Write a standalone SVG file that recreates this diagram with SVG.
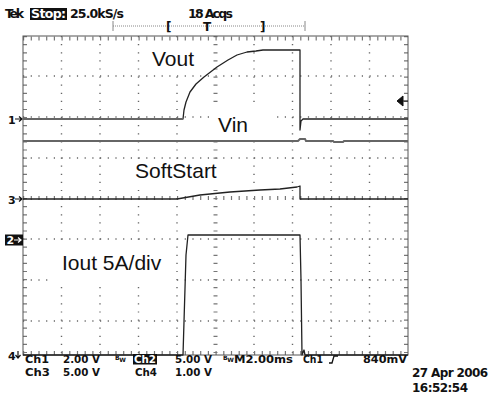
<svg xmlns="http://www.w3.org/2000/svg" width="491" height="395" viewBox="0 0 491 395">
<style>
.scope{font-family:"DejaVu Sans","Liberation Sans",sans-serif;fill:#111;font-weight:bold}
.ro{font-size:10px}
.lab{font-family:"Liberation Sans",Arial,sans-serif;font-size:21px;fill:#111}
.inv{fill:#fff}
.grid{stroke:#555;stroke-width:1;fill:none}
.dotv{stroke:#666;stroke-width:1.4;stroke-dasharray:1.2 6.9;fill:none}
.doth{stroke:#666;stroke-width:1.4;stroke-dasharray:1.2 6.5;fill:none}
.tr{stroke:#222;stroke-width:1.3;fill:none;stroke-linejoin:round}
.trg{stroke:#666;stroke-width:2;fill:none}
.arr{stroke:#111;stroke-width:1.2;fill:none}
</style>
<rect width="491" height="395" fill="#fff"/>

<g id="header">
  <text class="scope" x="5" y="18" font-size="12.5" textLength="19">Tek</text>
  <rect x="30" y="8" width="37" height="12" fill="#111"/>
  <text class="scope inv" x="31" y="18" font-size="12.5" textLength="35">Stop:</text>
  <text class="scope" x="70" y="18" font-size="12.5" textLength="54">25.0kS/s</text>
  <text class="scope" x="188" y="18" font-size="12.5" textLength="45">18 Acqs</text>
  <line x1="113" y1="26" x2="305" y2="26" stroke="#888" stroke-width="1" stroke-dasharray="1 1"/>
  <line x1="113" y1="21" x2="113" y2="31" stroke="#888" stroke-width="1"/>
  <line x1="305" y1="21" x2="305" y2="31" stroke="#888" stroke-width="1"/>
  <text class="scope" x="166" y="31" font-size="12">[</text>
  <text class="scope" x="203" y="31" font-size="12">T</text>
  <text class="scope" x="260" y="31" font-size="12">]</text>
</g>

<g id="graticule">
  <g class="dotv">
    <line x1="61.5" y1="36" x2="61.5" y2="355"/>
    <line x1="100" y1="36" x2="100" y2="355"/>
    <line x1="138.5" y1="36" x2="138.5" y2="355"/>
    <line x1="177" y1="36" x2="177" y2="355"/>
    <line x1="254" y1="36" x2="254" y2="355"/>
    <line x1="292.5" y1="36" x2="292.5" y2="355"/>
    <line x1="331" y1="36" x2="331" y2="355"/>
    <line x1="369.5" y1="36" x2="369.5" y2="355"/>
  </g>
  <g class="doth">
    <line x1="23" y1="76" x2="408" y2="76"/>
    <line x1="23" y1="117" x2="408" y2="117"/>
    <line x1="23" y1="158" x2="408" y2="158"/>
    <line x1="23" y1="239" x2="408" y2="239"/>
    <line x1="23" y1="280" x2="408" y2="280"/>
    <line x1="23" y1="321" x2="408" y2="321"/>
  </g>
  <line x1="215.5" y1="36" x2="215.5" y2="355" stroke="#777" stroke-width="4" stroke-dasharray="1.2 6.9"/>
  <line x1="23" y1="198" x2="408" y2="198" stroke="#777" stroke-width="4" stroke-dasharray="1.2 6.5"/>
  <line x1="23" y1="38.5" x2="408" y2="38.5" stroke="#777" stroke-width="4" stroke-dasharray="1.2 6.5"/>
  <line x1="23" y1="353" x2="408" y2="353" stroke="#777" stroke-width="4" stroke-dasharray="1.2 6.5"/>
  <line x1="25" y1="36" x2="25" y2="355" stroke="#777" stroke-width="4" stroke-dasharray="1.2 6.9"/>
  <line x1="406" y1="36" x2="406" y2="355" stroke="#777" stroke-width="4" stroke-dasharray="1.2 6.9"/>
  <rect class="grid" x="23" y="36" width="385" height="319" stroke-width="1.5"/>
</g>

<g id="label-boxes" fill="#fff">
  <rect x="148" y="44" width="64" height="28"/>
  <rect x="212" y="107" width="60" height="32"/>
  <rect x="130" y="160" width="92" height="24"/>
  <rect x="50" y="246" width="122" height="38"/>
</g>

<g id="connectors">
  <path id="vout" class="tr" d="M23,119 H183 L184,110 L186,102 L190,92 L196,84 L204,77 L217,67 L228,60 L237,55 L247,52 L256,51 L263,50 H300 V130 L301,121 L303,119 H408"/>
  <path class="trg" d="M23,119 H183"/>
  <path id="vin" class="trg" d="M23,141 H298 L300,139 H305 L306,141 H333 L334,142 H343 L344,141 H408"/>
  <path id="softstart" class="tr" d="M23,199 H177 L200,195 L230,192 L260,190 L280,189 L297,187 L300,186 V199 H408"/>
  <path id="iout" class="tr" d="M23,355 H183 L186,255 L188,235 H300 L301,280 L302,355 L304,350 L305,355 H408"/>
</g>

<g id="labels">
  <text class="lab" x="152" y="66">Vout</text>
  <text class="lab" x="218" y="132">Vin</text>
  <text class="lab" x="135" y="178">SoftStart</text>
  <text class="lab" x="62" y="270">Iout 5A/div</text>
</g>

<g id="markers">
  <text class="scope" x="8" y="123.5" font-size="11">1</text>
  <path class="arr" d="M15,119 H22 M19,116.5 L22,119 L19,121.5"/>
  <text class="scope" x="8" y="203.5" font-size="11">3</text>
  <path class="arr" d="M15,199 H22 M19,196.5 L22,199 L19,201.5"/>
  <rect x="5" y="234.5" width="18" height="11" fill="#111"/>
  <text class="scope inv" x="6.5" y="244" font-size="11">2</text>
  <path d="M14,240 H21 M18,237.5 L21,240 L18,242.5" stroke="#fff" stroke-width="1.2" fill="none"/>
  <text class="scope" x="8" y="359.5" font-size="11">4</text>
  <path class="arr" d="M18,351 V358 M15.5,355 L18,358 L20.5,355"/>
  <path d="M397,101 L403,96 V106 Z M403,101 H408" fill="#111" stroke="#111" stroke-width="1"/>
</g>

<g id="readout">
  <text class="scope ro" x="25" y="363" textLength="24" lengthAdjust="spacingAndGlyphs">Ch1</text>
  <text class="scope ro" x="63" y="363" textLength="37" lengthAdjust="spacingAndGlyphs">2.00 V</text>
  <text class="scope" x="115" y="360" font-size="6">B<tspan dy="2">W</tspan></text>
  <rect x="133" y="354" width="24" height="10.5" fill="#111"/>
  <text class="scope ro inv" x="134" y="363" textLength="22" lengthAdjust="spacingAndGlyphs">Ch2</text>
  <text class="scope ro" x="175" y="363" textLength="37" lengthAdjust="spacingAndGlyphs">5.00 V</text>
  <text class="scope" x="223" y="360" font-size="6">B<tspan dy="2">W</tspan></text>
  <text class="scope ro" x="234" y="363" textLength="59" lengthAdjust="spacingAndGlyphs">M2.00ms</text>
  <text class="scope ro" x="303" y="363" textLength="20" lengthAdjust="spacingAndGlyphs">Ch1</text>
  <path d="M329,363 H332 L334,356 H338" fill="none" stroke="#111" stroke-width="1.3"/>
  <text class="scope ro" x="363" y="363" textLength="44" lengthAdjust="spacingAndGlyphs">840mV</text>
  <text class="scope ro" x="25" y="375.5" textLength="25" lengthAdjust="spacingAndGlyphs">Ch3</text>
  <text class="scope ro" x="63" y="375.5" textLength="37" lengthAdjust="spacingAndGlyphs">5.00 V</text>
  <text class="scope ro" x="135" y="375.5" textLength="22" lengthAdjust="spacingAndGlyphs">Ch4</text>
  <text class="scope ro" x="175" y="375.5" textLength="37" lengthAdjust="spacingAndGlyphs">1.00 V</text>
  <text class="scope" x="412" y="377" font-size="12" textLength="76">27 Apr 2006</text>
  <text class="scope" x="412" y="392" font-size="12" textLength="56">16:52:54</text>
</g>
</svg>
